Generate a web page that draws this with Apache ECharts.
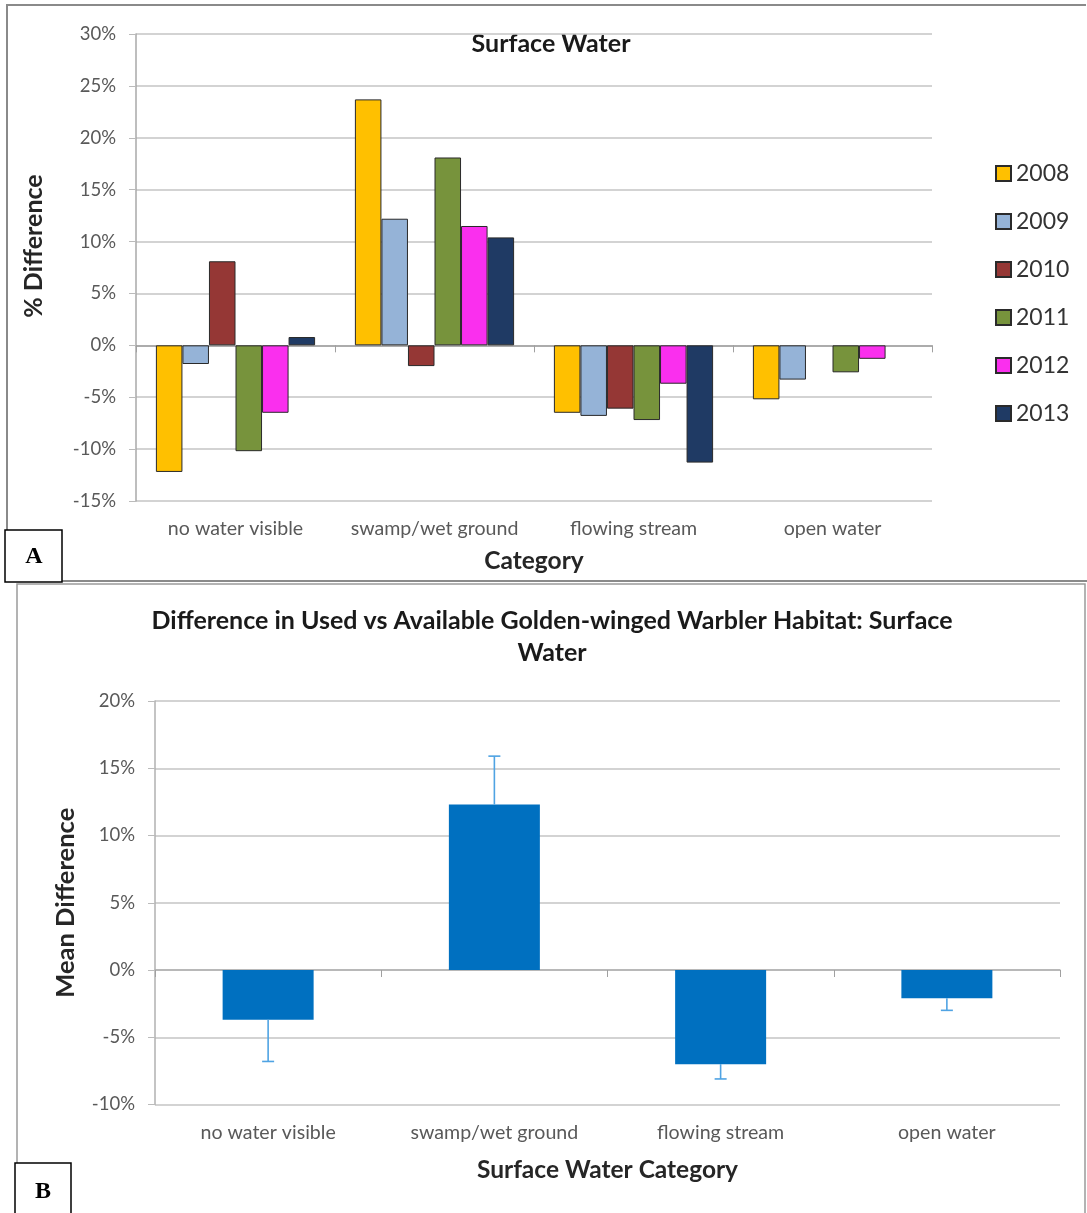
<!DOCTYPE html>
<html><head><meta charset="utf-8">
<script src="https://cdn.jsdelivr.net/npm/echarts@6/dist/echarts.min.js"></script>
<style>html,body{margin:0;padding:0;background:#fff}#c{width:1087px;height:1213px}</style>
</head><body><div id="c"></div>
<script>
const categories = ['no water visible', 'swamp/wet ground', 'flowing stream', 'open water'];
const years = ['2008', '2009', '2010', '2011', '2012', '2013'];
const v2008 = [-12.2, 23.7, -6.5, -5.2];
const v2009 = [-1.8, 12.2, -6.8, -3.3];
const v2010 = [8.1, -2.0, -6.1, null];
const v2011 = [-10.2, 18.1, -7.2, -2.6];
const v2012 = [-6.5, 11.5, -3.7, -1.3];
const v2013 = [0.8, 10.4, -11.3, null];
const yearValues = [v2008, v2009, v2010, v2011, v2012, v2013];
const yearColors = ['#FFC000', '#95B3D7', '#953735', '#77933C', '#FA2FEE', '#1F3A64'];
const meanDiff = [-3.7, 12.3, -7.0, -2.1];
const errDiff = [3.1, 3.6, 1.1, 0.9];

const FONT = 'Lato';
const chart = echarts.init(document.getElementById('c'), null, {renderer: 'canvas'});

const tickLabel = {fontFamily: FONT, fontSize: 18.5, color: '#595959', formatter: '{value}%'};
const catLabel = {fontFamily: FONT, fontSize: 19.6, color: '#595959', interval: 0};
const nameStyle = {fontFamily: FONT, fontSize: 24.5, fontWeight: 'bold', color: '#262626'};
const gridLine = {show: true, lineStyle: {color: '#c4c4c4', width: 1.5}};

const seriesA = years.map((y, i) => ({
  name: y, type: 'bar', xAxisIndex: 0, yAxisIndex: 0,
  data: yearValues[i], barGap: '0%', barCategoryGap: '20%',
  itemStyle: {color: yearColors[i], borderColor: '#2a2a2a', borderWidth: 1}
}));

const option = {
  animation: false,
  textStyle: {fontFamily: FONT},
  grid: [
    {left: 136, top: 34, width: 796, height: 467},
    {left: 155, top: 701, width: 905, height: 403.5}
  ],
  legend: {
    data: years, orient: 'vertical', left: 995, top: 162, padding: 0,
    itemWidth: 15, itemHeight: 15, itemGap: 25, icon: 'rect',
    textStyle: {fontFamily: FONT, fontSize: 23, color: '#333', lineHeight: 23}
  },
  xAxis: [
    {gridIndex: 0, type: 'category', data: categories, position: 'bottom',
     axisLine: {show: false, onZero: false}, axisTick: {show: false},
     axisLabel: Object.assign({margin: 18}, catLabel),
     name: 'Category', nameLocation: 'middle', nameGap: 48, nameTextStyle: nameStyle},
    {gridIndex: 0, type: 'category', data: categories, position: 'bottom',
     axisLine: {show: true, onZero: true, lineStyle: {color: '#a0a0a0', width: 1.5}},
     axisTick: {show: true, length: 7, lineStyle: {color: '#a0a0a0'}}, axisLabel: {show: false}},
    {gridIndex: 1, type: 'category', data: categories, position: 'bottom',
     axisLine: {show: false, onZero: false}, axisTick: {show: false},
     axisLabel: Object.assign({margin: 18}, catLabel),
     name: 'Surface Water Category', nameLocation: 'middle', nameGap: 53, nameTextStyle: nameStyle},
    {gridIndex: 1, type: 'category', data: categories, position: 'bottom',
     axisLine: {show: true, onZero: true, lineStyle: {color: '#b0b0b0', width: 1.5}},
     axisTick: {show: true, length: 7, lineStyle: {color: '#a0a0a0'}}, axisLabel: {show: false}}
  ],
  yAxis: [
    {gridIndex: 0, type: 'value', min: -15, max: 30, interval: 5,
     axisLine: {show: true, lineStyle: {color: '#a8a8a8', width: 1.5}},
     axisTick: {show: true, length: 7, lineStyle: {color: '#bbb'}},
     axisLabel: Object.assign({margin: 20}, tickLabel), splitLine: gridLine},
    {gridIndex: 1, type: 'value', min: -10, max: 20, interval: 5,
     axisLine: {show: true, lineStyle: {color: '#b0b0b0', width: 1.5}},
     axisTick: {show: true, length: 7, lineStyle: {color: '#bbb'}},
     axisLabel: Object.assign({margin: 20}, tickLabel), splitLine: gridLine,
     name: 'Mean Difference', nameLocation: 'middle', nameGap: 76, nameRotate: 90, nameTextStyle: Object.assign({}, nameStyle, {fontSize: 25.5})}
  ],
  series: seriesA.concat([
    {type: 'bar', xAxisIndex: 2, yAxisIndex: 1, data: meanDiff, barWidth: 91,
     itemStyle: {color: '#0070C0'}},
    {type: 'custom', xAxisIndex: 2, yAxisIndex: 1, z: 5,
     data: meanDiff.map((v, i) => [i, v, errDiff[i]]),
     renderItem: function (params, api) {
       const x = api.value(0), v = api.value(1), e = api.value(2);
       const end = v >= 0 ? v + e : v - e;
       const p0 = api.coord([x, v]);
       const p1 = api.coord([x, end]);
       const st = {stroke: '#4FA3E3', lineWidth: 1.6};
       return {type: 'group', children: [
         {type: 'line', shape: {x1: p0[0], y1: p0[1], x2: p1[0], y2: p1[1]}, style: st},
         {type: 'line', shape: {x1: p1[0] - 6, y1: p1[1], x2: p1[0] + 6, y2: p1[1]}, style: st}
       ]};
     }}
  ]),
  graphic: [
    {type: 'polyline', shape: {points: [[7, 530], [7, 5], [1086, 5]]}, style: {stroke: '#8a8a8a', lineWidth: 2, fill: null}},
    {type: 'line', shape: {x1: 62, y1: 581, x2: 1087, y2: 581}, style: {stroke: '#8a8a8a', lineWidth: 2}},
    {type: 'polyline', shape: {points: [[17, 1163], [17, 584], [1085, 584], [1085, 1213]]}, style: {stroke: '#9a9a9a', lineWidth: 1.5, fill: null}},
    {type: 'rect', shape: {x: 5, y: 530, width: 57, height: 52}, style: {fill: '#fff', stroke: '#000', lineWidth: 1.5}},
    {type: 'text', x: 34, y: 557, style: {text: 'A', font: 'bold 24px "Liberation Serif"', fill: '#000', textAlign: 'center', textVerticalAlign: 'middle'}},
    {type: 'rect', shape: {x: 15, y: 1163, width: 56, height: 52}, style: {fill: '#fff', stroke: '#000', lineWidth: 1.5}},
    {type: 'text', x: 43, y: 1192, style: {text: 'B', font: 'bold 24px "Liberation Serif"', fill: '#000', textAlign: 'center', textVerticalAlign: 'middle'}},
    {type: 'text', x: 34, y: 246, rotation: Math.PI / 2, style: {text: '% Difference', font: 'bold 25px Lato', fill: '#262626', textAlign: 'center', textVerticalAlign: 'middle'}},
    {type: 'text', x: 551, y: 44, style: {text: 'Surface Water', font: 'bold 25px Lato', fill: '#1a1a1a', textAlign: 'center', textVerticalAlign: 'middle'}},
    {type: 'text', x: 552, y: 621, style: {text: 'Difference in Used vs Available Golden-winged Warbler Habitat: Surface', font: 'bold 25px Lato', fill: '#1a1a1a', textAlign: 'center', textVerticalAlign: 'middle'}},
    {type: 'text', x: 552, y: 653, style: {text: 'Water', font: 'bold 25px Lato', fill: '#1a1a1a', textAlign: 'center', textVerticalAlign: 'middle'}}
  ]
};
chart.setOption(option);
</script></body></html>
